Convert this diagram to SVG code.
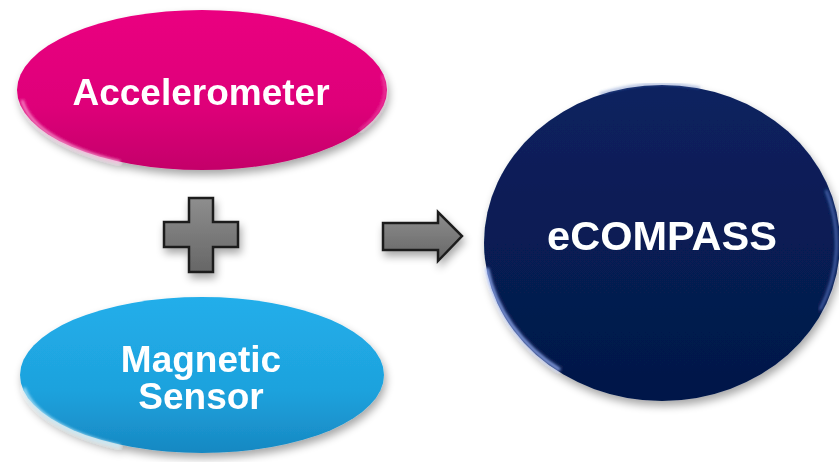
<svg xmlns="http://www.w3.org/2000/svg" width="839" height="462" viewBox="0 0 839 462">
<defs>
<style>
.lbl{font-family:"Liberation Sans",Arial,sans-serif;font-weight:bold;fill:#ffffff;text-anchor:middle}
.sym{stroke:#1e1e1e;stroke-width:2.5;stroke-linejoin:miter;fill:url(#gGray)}
</style>
<linearGradient id="gPink" x1="0" y1="0" x2="0" y2="1">
<stop offset="0" stop-color="#ea0380"/><stop offset="0.6" stop-color="#de0079"/><stop offset="1" stop-color="#c4006a"/>
</linearGradient>
<linearGradient id="gBlue" x1="0" y1="0" x2="0" y2="1">
<stop offset="0" stop-color="#22aeea"/><stop offset="0.6" stop-color="#1ea2dd"/><stop offset="1" stop-color="#1788c2"/>
</linearGradient>
<linearGradient id="gNavy" x1="0" y1="0" x2="0" y2="1">
<stop offset="0" stop-color="#0a215f"/><stop offset="1" stop-color="#041848"/>
</linearGradient>
<linearGradient id="gGray" x1="0" y1="0" x2="0" y2="1">
<stop offset="0" stop-color="#8e8e8e"/><stop offset="1" stop-color="#666666"/>
</linearGradient>
<filter id="sh" x="-20%" y="-20%" width="140%" height="150%">
<feGaussianBlur in="SourceAlpha" stdDeviation="4"/>
<feOffset dx="2" dy="5" result="b"/>
<feComponentTransfer><feFuncA type="linear" slope="0.35"/></feComponentTransfer>
<feMerge><feMergeNode/><feMergeNode in="SourceGraphic"/></feMerge>
</filter>
<filter id="blur1"><feGaussianBlur stdDeviation="1.5"/></filter>
</defs>

<g id="accelerometer" filter="url(#sh)">
<ellipse cx="202" cy="90" rx="185" ry="80" fill="url(#gPink)"/>
<path d="M 22 100 A 185 80 0 0 0 120 162" fill="none" stroke="#ffb6e0" stroke-width="3" opacity="0.8" filter="url(#blur1)"/>
<path d="M 382 75 A 185 80 0 0 1 360 130" fill="none" stroke="#ff9fd4" stroke-width="2" opacity="0.5" filter="url(#blur1)"/>
<text class="lbl" x="201" y="105" font-size="37">Accelerometer</text>
</g>

<g id="magnetic-sensor" filter="url(#sh)">
<ellipse cx="202" cy="375" rx="182" ry="78" fill="url(#gBlue)"/>
<path d="M 24 388 A 182 78 0 0 0 120 446" fill="none" stroke="#c8f0ff" stroke-width="3" opacity="0.8" filter="url(#blur1)"/>
<text class="lbl" x="201" y="372" font-size="37">Magnetic</text>
<text class="lbl" x="201" y="409" font-size="37">Sensor</text>
</g>

<g id="ecompass" filter="url(#sh)">
<ellipse cx="662" cy="243" rx="178" ry="158" fill="url(#gNavy)"/>
<path d="M 487 268 A 178 158 0 0 0 560 370" fill="none" stroke="#9fb8ff" stroke-width="3.5" opacity="0.85" filter="url(#blur1)"/>
<path d="M 600 94 A 178 158 0 0 1 700 88" fill="none" stroke="#5a78c0" stroke-width="2" opacity="0.6" filter="url(#blur1)"/>
<path d="M 826 190 A 178 158 0 0 1 820 310" fill="none" stroke="#6f8fe0" stroke-width="2.5" opacity="0.7" filter="url(#blur1)"/>
<text class="lbl" x="662" y="250" font-size="41.5">eCOMPASS</text>
</g>

<g id="connectors">
<path id="plus" class="sym" filter="url(#sh)" d="M189 198 H213 V222 H238 V247 H213 V272 H189 V247 H164 V222 H189 Z"/>
<path id="arrow" class="sym" filter="url(#sh)" d="M383 223 H438 V212 L462 236 L438 261 V250 H383 Z"/>
</g>
</svg>
